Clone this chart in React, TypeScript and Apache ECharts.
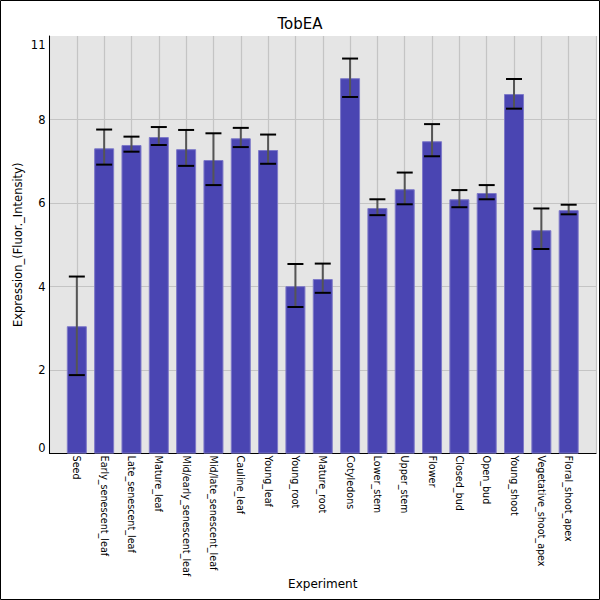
import React, { useEffect, useRef } from "react";
import * as echarts from "echarts";

const categories = [
  "Seed",
  "Early_senescent_leaf",
  "Late_senescent_leaf",
  "Mature_leaf",
  "Mid/early_senescent_leaf",
  "Mid/late_senescent_leaf",
  "Cauline_leaf",
  "Young_leaf",
  "Young_root",
  "Mature_root",
  "Cotyledons",
  "Lower_stem",
  "Upper_stem",
  "Flower",
  "Closed_bud",
  "Open_bud",
  "Young_shoot",
  "Vegetative_shoot_apex",
  "Floral_shoot_apex",
];

const values = [
  3.05, 7.31, 7.39, 7.58, 7.29, 7.03, 7.55, 7.27, 4.01, 4.18, 8.99, 5.88, 6.33,
  7.48, 6.09, 6.24, 8.61, 5.35, 5.83,
];

const errLow = [
  1.88, 6.92, 7.23, 7.39, 6.89, 6.43, 7.34, 6.94, 3.51, 3.85, 8.54, 5.71, 5.97,
  7.12, 5.9, 6.09, 8.26, 4.9, 5.73,
];

const errHigh = [
  4.24, 7.76, 7.59, 7.82, 7.75, 7.67, 7.8, 7.64, 4.54, 4.55, 9.46, 6.09, 6.73,
  7.89, 6.31, 6.43, 8.97, 5.87, 5.96,
];

const yTickValues = [0, 2, 4, 6, 8, 10];
const yTickLabels = ["0", "2", "4", "6", "8", "11"];

const FONT = "DejaVu Sans";

export default function App() {
  const ref = useRef<HTMLDivElement>(null);

  useEffect(() => {
    if (!ref.current) return;
    const chart = echarts.init(ref.current, null, { renderer: "svg" });

    const axisData = ["", ...categories, ""];
    const barData = values.map((v, i) => [i + 1, v]);
    const errData = values.map((_, i) => [i + 1, errLow[i], errHigh[i]]);

    const option: any = {
      animation: false,
      backgroundColor: "#ffffff",
      title: {
        text: "TobEA",
        left: "center",
        top: 11,
        textStyle: {
          fontFamily: FONT,
          fontSize: 15,
          fontWeight: "normal",
          color: "#000",
        },
      },
      grid: {
        left: 49.5,
        right: 4,
        top: 36,
        bottom: 146.4,
        show: true,
        backgroundColor: "#e5e5e5",
        borderWidth: 0,
        containLabel: false,
        outerBoundsMode: "none",
      },
      xAxis: {
        type: "category",
        data: axisData,
        boundaryGap: false,
        name: "Experiment",
        nameLocation: "middle",
        nameGap: 124,
        nameMoveOverlap: false,
        nameTextStyle: { fontFamily: FONT, fontSize: 12, color: "#000" },
        axisLine: { show: true, lineStyle: { color: "#000", width: 1 } },
        axisTick: { show: false },
        axisLabel: {
          interval: 0,
          rotate: -90,
          margin: 2,
          fontFamily: FONT,
          fontSize: 9.6,
          color: "#000",
        },
        splitLine: {
          show: true,
          lineStyle: { color: "#c4c4c4", width: 1.2 },
        },
      },
      yAxis: {
        type: "value",
        min: 0,
        max: 10,
        interval: 2,
        name: "Expression_(Fluor._Intensity)",
        nameLocation: "middle",
        nameGap: 26,
        nameMoveOverlap: false,
        nameTextStyle: { fontFamily: FONT, fontSize: 11.5, color: "#000" },
        axisLine: { show: true, lineStyle: { color: "#000", width: 1 } },
        axisTick: { show: false },
        axisLabel: {
          margin: 4,
          fontFamily: FONT,
          fontSize: 11.5,
          color: "#000",
          formatter: (v: number) => {
            const idx = yTickValues.indexOf(v);
            const t = idx >= 0 ? yTickLabels[idx] : "";
            if (idx === yTickValues.length - 1) return "{top|" + t + "}";
            if (idx === 0) return "{bot|" + t + "}";
            return t;
          },
          rich: {
            top: {
              fontFamily: FONT,
              fontSize: 11.5,
              color: "#000",
              padding: [17, 0, 0, 0],
            },
            bot: {
              fontFamily: FONT,
              fontSize: 11.5,
              color: "#000",
              padding: [0, 0, 12, 0],
            },
          },
        },
        splitLine: {
          show: true,
          showMinLine: false,
          showMaxLine: false,
          lineStyle: { color: "#c4c4c4", width: 1.2 },
        },
      },
      series: [
        {
          type: "bar",
          data: barData,
          barWidth: 20,
          itemStyle: {
            color: "#4a45b2",
            borderColor: "#7d79c8",
            borderWidth: 1,
          },
          z: 2,
        },
        {
          type: "custom",
          data: errData,
          z: 3,
          renderItem: (params: any, api: any) => {
            const x = api.value(0);
            const lo = api.coord([x, api.value(1)]);
            const hi = api.coord([x, api.value(2)]);
            const half = 8;
            return {
              type: "group",
              children: [
                {
                  type: "line",
                  shape: { x1: lo[0], y1: lo[1], x2: hi[0], y2: hi[1] },
                  style: { stroke: "#555555", lineWidth: 2 },
                },
                {
                  type: "line",
                  shape: {
                    x1: hi[0] - half,
                    y1: hi[1],
                    x2: hi[0] + half,
                    y2: hi[1],
                  },
                  style: { stroke: "#000", lineWidth: 2 },
                },
                {
                  type: "line",
                  shape: {
                    x1: lo[0] - half,
                    y1: lo[1],
                    x2: lo[0] + half,
                    y2: lo[1],
                  },
                  style: { stroke: "#000", lineWidth: 2 },
                },
              ],
            };
          },
        },
      ],
      graphic: [
        {
          type: "rect",
          shape: { x: 0.5, y: 0.5, width: 599, height: 599 },
          style: { fill: "none", stroke: "#000", lineWidth: 1 },
          silent: true,
          z: 100,
        },
      ],
    };

    chart.setOption(option);
    return () => chart.dispose();
  }, []);

  return (
    <div
      ref={ref}
      style={{ position: "absolute", left: 0, top: 0, width: 600, height: 600 }}
    />
  );
}
